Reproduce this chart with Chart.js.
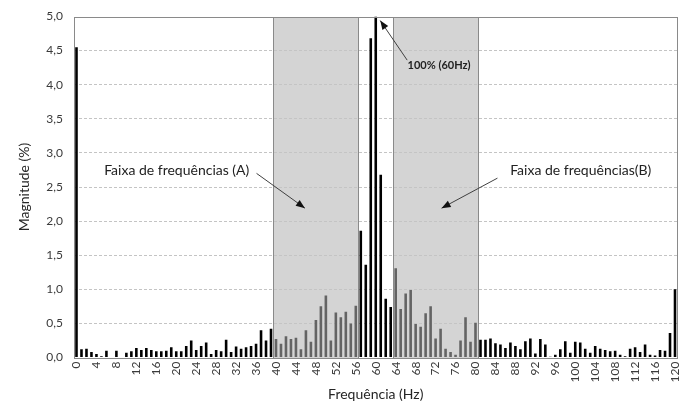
<!DOCTYPE html>
<html>
<head>
<meta charset="utf-8">
<script src="https://cdn.jsdelivr.net/npm/chart.js@4"></script>
<style>
html,body{margin:0;padding:0;background:#fff;}
#wrap{width:688px;height:403px;}
</style>
</head>
<body>
<div id="wrap"><canvas id="c" width="688" height="403"></canvas></div>
<script>
const categories = [0,1,2,3,4,5,6,7,8,9,10,11,12,13,14,15,16,17,18,19,20,21,22,23,24,25,26,27,28,29,30,31,32,33,34,35,36,37,38,39,40,41,42,43,44,45,46,47,48,49,50,51,52,53,54,55,56,57,58,59,60,61,62,63,64,65,66,67,68,69,70,71,72,73,74,75,76,77,78,79,80,81,82,83,84,85,86,87,88,89,90,91,92,93,94,95,96,97,98,99,100,101,102,103,104,105,106,107,108,109,110,111,112,113,114,115,116,117,118,119,120];
const magnitude = [
  4.55,0.12,0.13,0.08,0.05,0.02,0.10,0.00,0.10,0.00,
  0.07,0.09,0.14,0.11,0.14,0.11,0.09,0.09,0.10,0.15,
  0.09,0.09,0.17,0.25,0.11,0.17,0.22,0.05,0.11,0.09,
  0.26,0.08,0.16,0.13,0.15,0.17,0.20,0.40,0.25,0.42,
  0.27,0.20,0.31,0.27,0.29,0.12,0.40,0.23,0.55,0.75,
  0.91,0.25,0.66,0.59,0.67,0.50,0.76,1.86,1.36,4.68,
  5.00,2.68,0.86,0.74,1.31,0.71,0.94,0.99,0.49,0.45,
  0.65,0.75,0.28,0.42,0.13,0.08,0.04,0.25,0.59,0.23,
  0.51,0.26,0.26,0.28,0.21,0.19,0.14,0.22,0.17,0.12,
  0.24,0.28,0.06,0.27,0.19,0.01,0.04,0.12,0.24,0.07,
  0.23,0.22,0.13,0.07,0.17,0.13,0.11,0.09,0.10,0.04,
  0.02,0.13,0.15,0.08,0.19,0.04,0.03,0.11,0.10,0.36,
  1.00
];
const xTickLabels = ['0','4','8','12','16','20','24','28','32','36','40','44','48','52','56','60','64','68','72','76','80','84','88','92','96','100','104','108','112','116','120'];
const yTickValues = [0,0.5,1,1.5,2,2.5,3,3.5,4,4.5,5];
const bandA = [40,56];
const bandB = [64,80];
const labelA = 'Faixa de frequências (A)';
const labelB = 'Faixa de frequências(B)';
const labelPeak = '100% (60Hz)';
const xTitle = 'Frequência (Hz)';
const yTitle = 'Magnitude (%)';

const FONT = 'Lato, "Open Sans", "Liberation Sans", sans-serif';

function inBand(i){
  const v = categories[i];
  return (v>=bandA[0] && v<=bandA[1]) || (v>=bandB[0] && v<=bandB[1]);
}

const bandPlugin = {
  id:'bands',
  beforeDraw(chart){
    const {ctx, chartArea:a, scales:{x,y}} = chart;
    ctx.save();
    [bandA,bandB].forEach(b=>{
      const x0 = Math.round(x.getPixelForValue(b[0]-0.6))+0.5;
      const x1 = Math.round(x.getPixelForValue(b[1]+0.5))+0.5;
      const y0 = Math.round(a.top)+0.5, y1 = Math.round(y.getPixelForValue(0))+0.5;
      ctx.fillStyle = '#d4d4d4';
      ctx.fillRect(x0,y0,x1-x0,y1-y0);
      ctx.strokeStyle = '#8a8a8a';
      ctx.lineWidth = 1;
      ctx.strokeRect(x0,y0,x1-x0,y1-y0);
    });
    ctx.restore();
  }
};

function arrow(ctx,x0,y0,x1,y1){
  ctx.beginPath();
  ctx.moveTo(x0,y0);
  ctx.lineTo(x1,y1);
  ctx.stroke();
  const ang = Math.atan2(y1-y0,x1-x0);
  const L = 9, W = 3.5;
  ctx.beginPath();
  ctx.moveTo(x1,y1);
  ctx.lineTo(x1-L*Math.cos(ang)+W*Math.sin(ang), y1-L*Math.sin(ang)-W*Math.cos(ang));
  ctx.lineTo(x1-L*Math.cos(ang)-W*Math.sin(ang), y1-L*Math.sin(ang)+W*Math.cos(ang));
  ctx.closePath();
  ctx.fill();
}

const notePlugin = {
  id:'notes',
  afterDatasetsDraw(chart){
    const {ctx, chartArea:a, scales:{x,y}} = chart;
    ctx.save();
    ctx.strokeStyle = '#8a8a8a';
    ctx.lineWidth = 1;
    ctx.strokeRect(Math.round(a.left)+0.5, Math.round(a.top)+0.5, Math.round(a.right-a.left)-1, Math.round(a.bottom-a.top));
    ctx.fillStyle = '#222';
    ctx.textAlign = 'center';
    ctx.textBaseline = 'middle';
    ctx.font = '14px ' + FONT;
    ctx.fillText(labelA, x.getPixelForValue(20.1), y.getPixelForValue(2.74));
    ctx.fillText(labelB, x.getPixelForValue(101.1), y.getPixelForValue(2.74));
    ctx.font = 'bold 11px ' + FONT;
    ctx.fillText(labelPeak, x.getPixelForValue(72.7), y.getPixelForValue(4.28));
    ctx.strokeStyle = '#404040';
    ctx.fillStyle = '#111';
    ctx.lineWidth = 1;
    arrow(ctx, x.getPixelForValue(36.1), y.getPixelForValue(2.70), x.getPixelForValue(45.8), y.getPixelForValue(2.19));
    arrow(ctx, x.getPixelForValue(84.4), y.getPixelForValue(2.63), x.getPixelForValue(73.2), y.getPixelForValue(2.19));
    arrow(ctx, x.getPixelForValue(66.3), y.getPixelForValue(4.36), x.getPixelForValue(60.9), y.getPixelForValue(4.94));
    ctx.restore();
  }
};

new Chart(document.getElementById('c'), {
  type:'bar',
  data:{
    labels: categories.map(String),
    datasets:[{
      data: magnitude,
      backgroundColor: ctx => inBand(ctx.dataIndex) ? '#646464' : '#000000',
      borderWidth:0,
      barPercentage:0.52,
      categoryPercentage:1
    }]
  },
  options:{
    responsive:false,
    animation:false,
    devicePixelRatio:1,
    layout:{padding:{left:0,right:10.5,top:16.5,bottom:0}},
    plugins:{legend:{display:false},tooltip:{enabled:false}},
    scales:{
      x:{
        offset:true,
        grid:{display:false, drawTicks:false},
        border:{display:false},
        ticks:{
          autoSkip:false, minRotation:90, maxRotation:90, padding:4,
          color:'#3a3a3a', font:{family:FONT, size:12},
          callback:function(v,i){ const l = this.getLabelForValue(v); return xTickLabels.includes(l) ? l : null; }
        },
        title:{display:true, text:xTitle, color:'#262626', font:{family:FONT,size:14}, padding:{top:0,bottom:0}},
        afterFit(s){ s.height = 45.5; s.paddingLeft = 0; s.paddingRight = 0; }
      },
      y:{
        min:0, max:5,
        afterBuildTicks(s){ s.ticks = yTickValues.map(v=>({value:v})); },
        grid:{
          drawTicks:false,
          color: c => (c.tick && (c.tick.value===0 || c.tick.value===5)) ? 'rgba(0,0,0,0)' : '#c4c4c4'
        },
        border:{display:false, dash:[3,2]},
        ticks:{
          padding:11, color:'#3a3a3a', font:{family:FONT,size:12},
          callback: v => v.toFixed(1).replace('.',',')
        },
        title:{display:true, text:yTitle, color:'#262626', font:{family:FONT,size:14}, padding:{top:16,bottom:0}},
        afterFit(s){ s.width = 74; s.paddingTop = 0; s.paddingBottom = 0; }
      }
    }
  },
  plugins:[bandPlugin, notePlugin]
});
</script>
</body>
</html>
